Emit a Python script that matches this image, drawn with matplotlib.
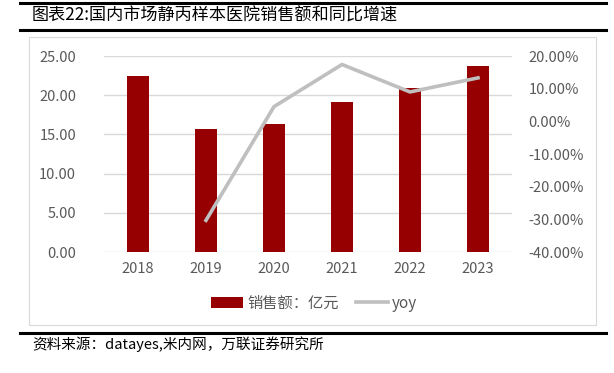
import matplotlib
matplotlib.use('Agg')
import matplotlib.pyplot as plt
import matplotlib.ticker as mticker
from matplotlib.lines import Line2D
from matplotlib.patches import Rectangle

plt.rcParams['font.family'] = ['Noto Sans CJK SC', 'DejaVu Sans']

# data
years = ['2018', '2019', '2020', '2021', '2022', '2023']
sales = [22.45, 15.65, 16.33, 19.17, 20.88, 23.72]   # 亿元
yoy = [None, -0.303, 0.045, 0.174, 0.090, 0.133]

W, H = 614, 373
fig = plt.figure(figsize=(W / 100, H / 100), dpi=100, facecolor='white')


def fx(x):
    return x / W


def fy(y):
    return 1 - y / H


# frame lines ========================================================
for y, x0, x1, lw in [(3, 20, 606, 2.2), (30, 20, 606, 2.2), (333, 20, 606, 2.2)]:
    fig.add_artist(Line2D([fx(x0), fx(x1)], [fy(y), fy(y)], color='black', lw=lw,
                          transform=fig.transFigure))
fig.add_artist(Rectangle((fx(29), fy(325)), fx(596) - fx(29), fy(37) - fy(325),
                         transform=fig.transFigure, fill=False, edgecolor='#d9d9d9', lw=0.8))

fig.text(fx(32), fy(16), '图表22:国内市场静丙样本医院销售额和同比增速', fontsize=12.3,
         va='center', ha='left', color='black')
fig.text(fx(32), fy(344), '资料来源：datayes,米内网，万联证券研究所', fontsize=10.5,
         va='center', ha='left', color='black', style='italic')

# main axes ==========================================================
ax = fig.add_axes([fx(104), fy(252), fx(512) - fx(104), fy(56) - fy(252)])
x = list(range(len(years)))
bars = ax.bar(x, sales, width=0.31, color='#960000', zorder=3, label='销售额：亿元')
ax.set_ylim(0, 25)
ax.set_xlim(-0.5, len(years) - 0.5)
ax.yaxis.set_major_locator(mticker.MultipleLocator(5))
ax.yaxis.set_major_formatter(mticker.FormatStrFormatter('%.2f'))
ax.set_xticks(x)
ax.set_xticklabels(years)
ax.grid(axis='y', color='#d9d9d9', lw=1, zorder=0)
for s in ax.spines.values():
    s.set_visible(False)
ax.tick_params(length=0, colors='#595959', labelsize=10.5)
ax.tick_params(axis='y', pad=20)
ax.tick_params(axis='x', pad=7)

ax2 = ax.twinx()
xs = [i for i, v in zip(x, yoy) if v is not None]
ys = [v for v in yoy if v is not None]
line, = ax2.plot(xs, ys, color='#bfbfbf', lw=2.6, zorder=4, label='yoy')
ax2.set_ylim(-0.4, 0.2)
ax2.yaxis.set_major_locator(mticker.MultipleLocator(0.1))
ax2.yaxis.set_major_formatter(mticker.FuncFormatter(lambda v, p: '%.2f%%' % (v * 100)))
for s in ax2.spines.values():
    s.set_visible(False)
ax2.tick_params(length=0, colors='#595959', labelsize=10.5, pad=12)

fig.legend(handles=[bars, line], loc='center', bbox_to_anchor=(fx(314), fy(303)),
           bbox_transform=fig.transFigure, ncol=2, frameon=False, fontsize=11,
           handlelength=2.1, handletextpad=0.3, columnspacing=1.1, labelcolor='#595959')

fig.savefig('out.png', dpi=100, facecolor='white')
